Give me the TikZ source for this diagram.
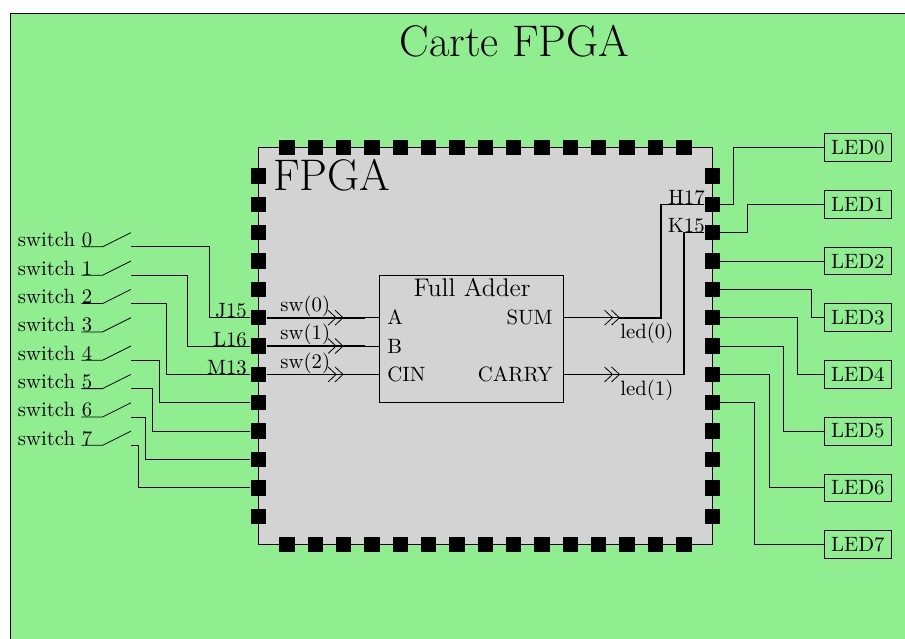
\documentclass[tikz,border=0pt]{standalone}
\usepackage{tikz}
\usetikzlibrary{arrows.meta,positioning,calc}
\definecolor{cardgreen}{RGB}{144,238,144}
\definecolor{fpgagray}{RGB}{211,211,211}
\begin{document}
\begin{tikzpicture}[x=0.5cm,y=0.5cm,
  >={Straight Barb[length=4pt,width=7.5pt,sep=-1pt]},
  every node/.style={font=\fontsize{10.4}{12}\selectfont},
  pinbox/.style={fill=black,inner sep=0pt,minimum size=0.27cm},
  ledbox/.style={draw,anchor=west},
  txt/.style={inner sep=0pt}]
\useasboundingbox (-9.118,-3.298) rectangle (22.80,19.206);
\draw[fill=cardgreen] (-8.75,-4) rectangle (23,18.75);
\draw[fill=fpgagray] (0,0) rectangle (16,14);
\node[txt,anchor=base,font=\fontsize{22.2}{26}\selectfont] (title) at (9.03,17.2) {Carte FPGA};
\node[txt,anchor=base west,font=\fontsize{22.2}{26}\selectfont] (fpga) at (0.5,12.5) {FPGA};
\foreach \k in {1,...,13}{
  \node[pinbox] (pinL\k) at (0,\k) {};
  \node[pinbox] (pinR\k) at (16,\k) {};}
\foreach \k in {1,...,15}{
  \node[pinbox] (pinT\k) at (\k,14) {};
  \node[pinbox] (pinB\k) at (\k,0) {};}
\node[draw,minimum width=3.25cm,minimum height=2.25cm] (adder) at (7.5,7.25) {};
\node[txt,anchor=base,font=\fontsize{12.8}{15}\selectfont] (fa) at (7.53,8.74) {Full Adder};
\node[txt,anchor=base west] (portA) at (4.53,7.75) {A};
\node[txt,anchor=base west] (portB) at (4.53,6.75) {B};
\node[txt,anchor=base west] (portC) at (4.53,5.75) {CIN};
\node[txt,anchor=base east] (portS) at (10.39,7.75) {SUM};
\node[txt,anchor=base east] (portR) at (10.39,5.75) {CARRY};
\foreach \i in {0,...,7}{
  \pgfmathsetmacro\y{10.5-\i}
  \node[txt,anchor=base west] (sw\i) at (-8.5,\y) {switch \i};
  \coordinate (swA\i) at (-6.25,\y);
  \coordinate (swB\i) at (-5.5,\y);
  \coordinate (swC\i) at (-4.5,\y+0.5);
  \coordinate (swD\i) at (-4.5,\y);
  \draw (swA\i) -- (swB\i) -- (swC\i);}
\foreach \i/\tx/\k in {0/-1.75/8,1/-2.5/7,2/-3.25/6,4/-3.5/5,5/-3.75/4,6/-4/3,7/-4.25/2}{
  \draw (swD\i) -| (\tx,\k) -- (pinL\k);}
\node[txt,anchor=base east] (J15) at (-0.4,8) {J15};
\node[txt,anchor=base east] (L16) at (-0.4,7) {L16};
\node[txt,anchor=base east] (M13) at (-0.4,6) {M13};
\foreach \k/\n in {8/0,7/1,6/2}{
  \draw[thick] (pinL\k) -- (3.75,\k);
  \draw[->>] (pinL\k) -- (2.93,\k);
  \draw (pinL\k) -- (pinL\k -| adder.west);
  \node[txt,anchor=base west] (sig\n) at (0.76,\k+0.22) {sw(\n)};}
\draw[->>] (pinL8 -| adder.east) -- (12.68,8) coordinate (tipS);
\draw[->>] (pinL6 -| adder.east) -- (12.68,6) coordinate (tipR);
\draw[thick] (tipS) -| (14.2,12) -- (pinR12);
\draw[thick] (tipR) -| (15,11) -- (pinR11);
\node[txt,anchor=base west] (led0) at (12.75,7.28) {led(0)};
\node[txt,anchor=base west] (led1) at (12.75,5.27) {led(1)};
\node[txt,anchor=base east] (H17) at (15.75,12) {H17};
\node[txt,anchor=base east] (K15) at (15.75,11) {K15};
\foreach \i/\y in {0/14,1/12,2/10,3/8,4/6,5/4,6/2,7/0}{
  \node[ledbox] (LED\i) at (19.95,\y) {LED\i};}
\draw (pinR12) -| (16.75,14) -- (LED0);
\draw (pinR11) -| (17.25,12) -- (LED1);
\draw (pinR10) -- (LED2);
\draw (pinR9) -| (19.5,8) -- (LED3);
\draw (pinR8) -| (19,6) -- (LED4);
\draw (pinR7) -| (18.5,4) -- (LED5);
\draw (pinR6) -| (18,2) -- (LED6);
\draw (pinR5) -| (17.5,0) -- (LED7);
\end{tikzpicture}
\end{document}
